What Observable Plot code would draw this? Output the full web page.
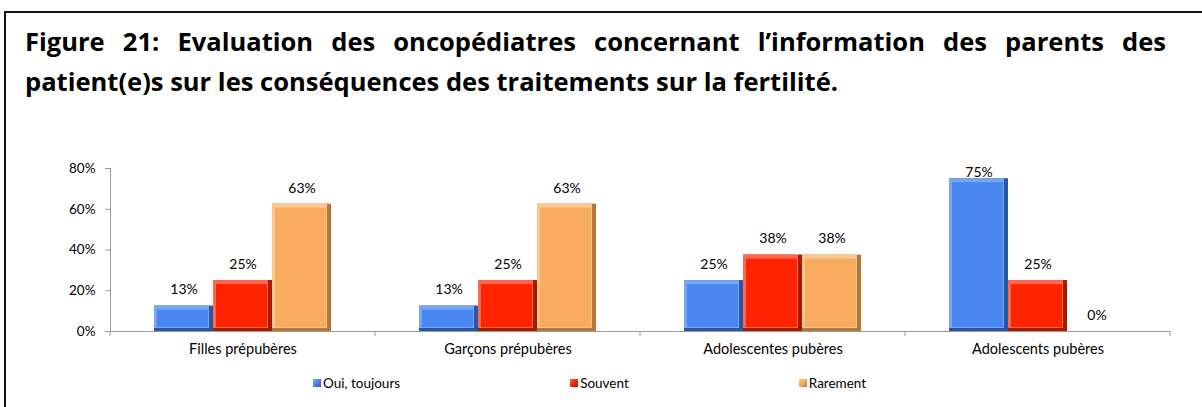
<!DOCTYPE html>
<html>
<head>
<meta charset="utf-8">
<script src="https://cdn.jsdelivr.net/npm/d3@7"></script>
<script src="https://cdn.jsdelivr.net/npm/@observablehq/plot@0.6"></script>
<style>
  html, body { margin: 0; padding: 0; background: #fff; }
  #page { position: relative; width: 1202px; height: 407px; overflow: hidden; background: #fff; }
  #box { position: absolute; left: 4px; top: 11px; right: -10px; bottom: -10px;
         border-top: 2px solid #111; border-left: 2px solid #111; }
  #title { position: absolute; left: 25px; top: 21px; width: 1141px;
           font-family: "Open Sans", "Liberation Sans", sans-serif; font-weight: 700; font-size: 25px;
           line-height: 40px; color: #000; transform-origin: 0 0; }
  #title .l1 { text-align: justify; text-align-last: justify; white-space: nowrap; }
  #title .l2 { text-align: left; white-space: nowrap; display: inline-block; }
  #chart { position: absolute; left: 0; top: 150px; }
  #legend { position: absolute; left: 313px; top: 375px; display: flex; gap: 170px;
            font-family: "Lato", "Liberation Sans", sans-serif; font-size: 13.5px; color: #000; }
  #legend .item { display: flex; align-items: center; }
  #legend .sw { width: 8px; height: 8px; margin-right: 2px; }
</style>
</head>
<body>
<div id="page">
  <div id="box"></div>
  <div id="title">
    <div class="l1">Figure 21: Evaluation des oncopédiatres concernant l’information des parents des</div>
    <div class="l2">patient(e)s sur les conséquences des traitements sur la fertilité.</div>
  </div>
  <div id="chart"></div>
  <div id="legend"></div>
</div>
<script>
const categories = ["Filles prépubères", "Garçons prépubères", "Adolescentes pubères", "Adolescents pubères"];
const series = ["Oui, toujours", "Souvent", "Rarement"];
const ouiToujours = [12.5, 12.5, 25, 75];
const souvent = [25, 25, 37.5, 25];
const rarement = [62.5, 62.5, 37.5, 0];
const yTicks = [0, 20, 40, 60, 80];

const faceColors = ["#4a86ef", "#ff2400", "#f9ab5f"];
const lightColors = ["#78a6f6", "#ff6a4e", "#fcc68f"];
const darkColors = ["#2b56a6", "#a81a00", "#b5763a"];

// fit the title's width to the reference (wide Calibri-like letters)
(function fitTitle() {
  const l2 = document.querySelector("#title .l2");
  const title = document.getElementById("title");
  const w = l2.getBoundingClientRect().width;
  const s = 813 / w;
  title.style.width = (1141 / s) + "px";
  title.style.transform = `scaleX(${s})`;
})();

const valuesBySeries = [ouiToujours, souvent, rarement];
const data = categories.flatMap((c, i) =>
  series.map((s, j) => ({cat: c, s, si: j, v: valuesBySeries[j][i]}))
);
const nonZero = data.filter(d => d.v > 0);

const chart = Plot.plot({
  width: 1202,
  height: 215,
  marginLeft: 108,
  marginRight: 31,
  marginTop: 18,
  marginBottom: 34,
  style: {fontFamily: "Lato, 'Liberation Sans', sans-serif", fontSize: "13.5px", color: "#000", background: "transparent"},
  fx: {domain: categories, padding: 0, label: null},
  x: {domain: series, paddingInner: 0, paddingOuter: 0.72, axis: null},
  y: {domain: [0, 80], label: null},
  marks: [
    Plot.axisY({ticks: yTicks, tickFormat: d => d + "%", tickSize: 5, tickPadding: 10, stroke: "#999", color: "#000", fontSize: 13.5}),
    Plot.axisFx({anchor: "bottom", tickSize: 0, tickPadding: 12, fontSize: 14.5, color: "#000"}),
    Plot.frame({anchor: "left", facetAnchor: "left", stroke: "#9a9a9a"}),
    Plot.barY(nonZero, {fx: "cat", x: "s", y: "v", fill: {value: d => darkColors[d.si], scale: null}}),
    Plot.barY(nonZero, {fx: "cat", x: "s", y: "v", insetRight: 4, insetBottom: 3, fill: {value: d => lightColors[d.si], scale: null}}),
    Plot.barY(nonZero, {fx: "cat", x: "s", y: "v", insetTop: 4, insetLeft: 3, insetRight: 5, insetBottom: 4, fill: {value: d => faceColors[d.si], scale: null}}),
    Plot.ruleY([0], {stroke: "#9a9a9a"}),
    Plot.text(data, {fx: "cat", x: "s", y: d => Math.min(d.v + 7.9, 78.2), text: d => Math.round(d.v) + "%", fontSize: 14, fill: "#000"})
  ]
});
document.getElementById("chart").appendChild(chart);

// category boundary tick marks on the x axis, from the fx scale
const fx = chart.scale("fx");
const yS = chart.scale("y");
const y0 = yS.apply(0);
const bounds = categories.map(c => fx.apply(c)).concat([fx.apply(categories[categories.length - 1]) + fx.bandwidth]);
d3.select(chart).append("g")
  .attr("stroke", "#9a9a9a")
  .selectAll("line").data(bounds).join("line")
  .attr("x1", d => d).attr("x2", d => d)
  .attr("y1", y0).attr("y2", y0 + 5);

// legend
const legend = d3.select("#legend");
series.forEach((s, j) => {
  const it = legend.append("div").attr("class", "item");
  it.append("div").attr("class", "sw")
    .style("background", `linear-gradient(135deg, ${lightColors[j]} 0%, ${faceColors[j]} 50%, ${darkColors[j]} 100%)`);
  it.append("span").text(s);
});
</script>
</body>
</html>
